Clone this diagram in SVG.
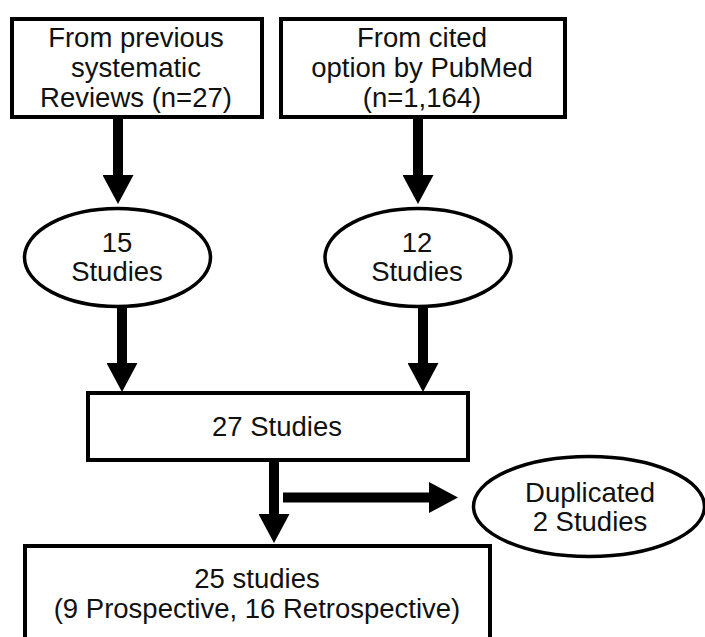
<svg xmlns="http://www.w3.org/2000/svg" width="705" height="637" viewBox="0 0 705 637">
<style>
.box{fill:#fff;stroke:#000;stroke-width:4}
.ell{fill:#fff;stroke:#000;stroke-width:3.5}
.t{font-family:"Liberation Sans",Arial,sans-serif;font-size:27.5px;fill:#111;text-anchor:middle}
.c{stroke:#000;stroke-width:10;fill:none}
</style>
<defs>
<marker id="ah" markerUnits="userSpaceOnUse" markerWidth="29" markerHeight="31" refX="0" refY="15.5" orient="auto" viewBox="0 0 29 31">
<path d="M0,0 L29,15.5 L0,31 z" fill="#000"/>
</marker>
</defs>
<rect width="705" height="637" fill="#fff"/>
<g id="connectors">
<line class="c" x1="118" y1="119" x2="118" y2="175" marker-end="url(#ah)"/>
<line class="c" x1="418" y1="119" x2="418" y2="175" marker-end="url(#ah)"/>
<line class="c" x1="122" y1="308" x2="122" y2="363" marker-end="url(#ah)"/>
<line class="c" x1="423" y1="308" x2="423" y2="363" marker-end="url(#ah)"/>
<line class="c" x1="274" y1="462" x2="274" y2="514" marker-end="url(#ah)"/>
<line class="c" x1="283" y1="497.5" x2="429" y2="497.5" marker-end="url(#ah)"/>
</g>
<g id="node-reviews">
<rect class="box" x="12" y="19" width="250" height="98"/>
<text class="t" x="136" y="47">From previous</text>
<text class="t" x="136" y="77">systematic</text>
<text class="t" x="136" y="107">Reviews (n=27)</text>
</g>
<g id="node-pubmed">
<rect class="box" x="281" y="19" width="284" height="98"/>
<text class="t" x="422" y="47">From cited</text>
<text class="t" x="422" y="77">option by PubMed</text>
<text class="t" x="422" y="107">(n=1,164)</text>
</g>
<g id="node-15">
<ellipse class="ell" cx="117.5" cy="257.5" rx="93" ry="49"/>
<text class="t" x="117" y="252">15</text>
<text class="t" x="117" y="281">Studies</text>
</g>
<g id="node-12">
<ellipse class="ell" cx="418" cy="257.5" rx="93" ry="49"/>
<text class="t" x="417" y="252">12</text>
<text class="t" x="417" y="281">Studies</text>
</g>
<g id="node-27">
<rect class="box" x="88" y="393" width="380" height="67"/>
<text class="t" x="277" y="436">27 Studies</text>
</g>
<g id="node-duplicated">
<ellipse class="ell" cx="589" cy="506.5" rx="115.5" ry="50"/>
<text class="t" x="590" y="502">Duplicated</text>
<text class="t" x="590" y="531">2 Studies</text>
</g>
<g id="node-25">
<rect class="box" x="25" y="546" width="465" height="110"/>
<text class="t" x="257" y="588">25 studies</text>
<text class="t" x="257" y="618">(9 Prospective, 16 Retrospective)</text>
</g>
</svg>
